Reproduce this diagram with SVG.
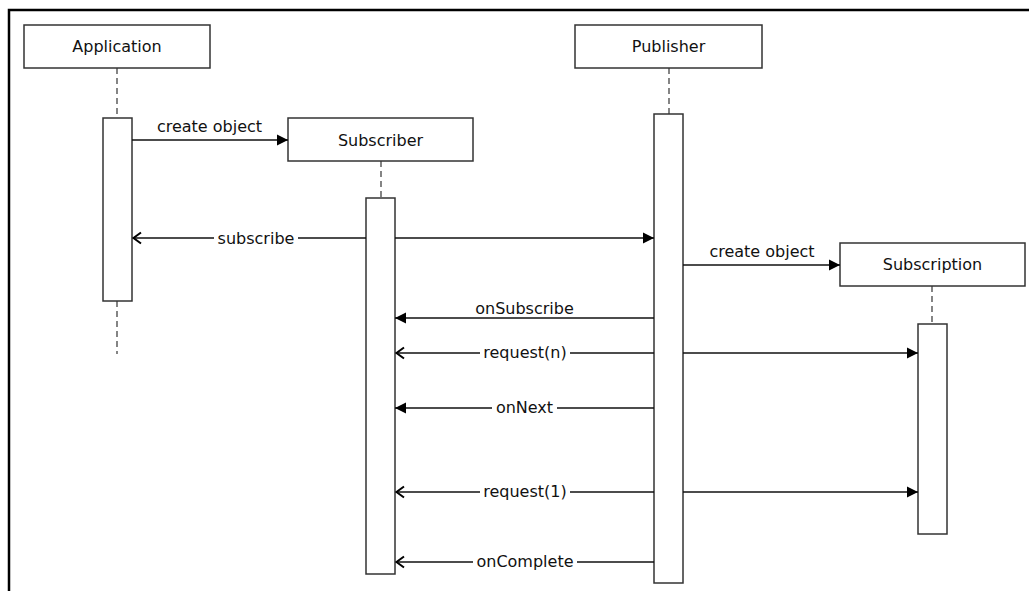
<svg xmlns="http://www.w3.org/2000/svg" width="1029" height="591" viewBox="0 0 1029 591">
<style>
.box{fill:#fff;stroke:#333;stroke-width:1.5}
.act{fill:#fff;stroke:#333;stroke-width:1.5}
.life{stroke:#444;stroke-width:1.3;stroke-dasharray:6 4;fill:none}
.msg{stroke:#111;stroke-width:1.5;fill:none}
text{font-family:"DejaVu Sans","Liberation Sans",sans-serif;font-size:16px;fill:#111;text-anchor:middle}
</style>
<defs>
<marker id="fill" markerWidth="12" markerHeight="12" refX="11" refY="6" orient="auto" markerUnits="userSpaceOnUse">
<path d="M0,0.5 L11,6 L0,11.5 Z" fill="#000"/>
</marker>
<marker id="open" markerWidth="12" markerHeight="14" refX="10" refY="7" orient="auto" markerUnits="userSpaceOnUse">
<path d="M2,1.5 L9.5,7 L2,12.5" fill="none" stroke="#000" stroke-width="2"/>
</marker>
</defs>
<rect width="1029" height="591" fill="#fff"/>
<path d="M9,591 V10 H1029" fill="none" stroke="#000" stroke-width="2.5"/>

<g id="lifelines">
<path class="life" d="M117,68 V118 M117,301 V354"/>
<path class="life" d="M381,161 V198"/>
<path class="life" d="M669,68 V114"/>
<path class="life" d="M932,286 V324"/>
</g>

<g id="application">
<rect class="box" x="24" y="25" width="186" height="43"/>
<text x="117" y="52">Application</text>
<rect class="act" x="103" y="118" width="29" height="183"/>
</g>
<g id="subscriber">
<rect class="box" x="288" y="118" width="185" height="43"/>
<text x="380.5" y="146">Subscriber</text>
<rect class="act" x="366" y="198" width="29" height="376"/>
</g>
<g id="publisher">
<rect class="box" x="575" y="25" width="187" height="43"/>
<text x="668.5" y="52">Publisher</text>
<rect class="act" x="654" y="114" width="29" height="469"/>
</g>
<g id="subscription">
<rect class="box" x="840" y="243" width="185" height="43"/>
<text x="932.5" y="270">Subscription</text>
<rect class="act" x="918" y="324" width="29" height="210"/>
</g>

<g id="connectors">
<line class="msg" x1="132" y1="140" x2="288" y2="140" marker-end="url(#fill)"/>
<text x="209.5" y="132">create object</text>

<line class="msg" x1="214" y1="238" x2="133" y2="238" marker-end="url(#open)"/>
<line class="msg" x1="298" y1="238" x2="366" y2="238"/>
<line class="msg" x1="395" y1="238" x2="654" y2="238" marker-end="url(#fill)"/>
<text x="256" y="243.5">subscribe</text>

<line class="msg" x1="683" y1="265" x2="840" y2="265" marker-end="url(#fill)"/>
<text x="762" y="257">create object</text>

<line class="msg" x1="654" y1="318" x2="395" y2="318" marker-end="url(#fill)"/>
<text x="524.5" y="314">onSubscribe</text>

<line class="msg" x1="480" y1="353" x2="396" y2="353" marker-end="url(#open)"/>
<line class="msg" x1="570" y1="353" x2="654" y2="353"/>
<line class="msg" x1="683" y1="353" x2="918" y2="353" marker-end="url(#fill)"/>
<text x="525" y="357.5">request(n)</text>

<line class="msg" x1="492" y1="408" x2="395" y2="408" marker-end="url(#fill)"/>
<line class="msg" x1="557" y1="408" x2="654" y2="408"/>
<text x="524.5" y="412.5">onNext</text>

<line class="msg" x1="480" y1="492" x2="396" y2="492" marker-end="url(#open)"/>
<line class="msg" x1="570" y1="492" x2="654" y2="492"/>
<line class="msg" x1="683" y1="492" x2="918" y2="492" marker-end="url(#fill)"/>
<text x="525" y="496.5">request(1)</text>

<line class="msg" x1="473" y1="562" x2="396" y2="562" marker-end="url(#open)"/>
<line class="msg" x1="577" y1="562" x2="654" y2="562"/>
<text x="525" y="566.5">onComplete</text>
</g>
</svg>
